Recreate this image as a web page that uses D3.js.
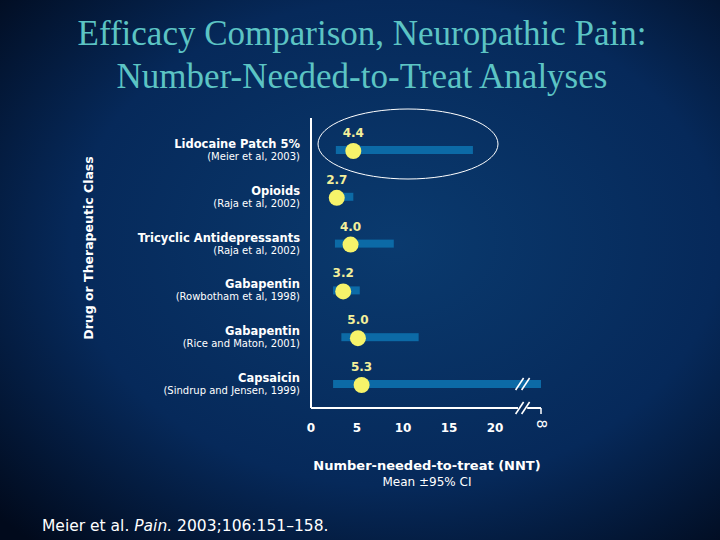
<!DOCTYPE html>
<html><head><meta charset="utf-8">
<script src="https://cdn.jsdelivr.net/npm/d3@7"></script>
<style>body{margin:0;background:#000}</style>
</head><body>
<script>
var drugs = ['Lidocaine Patch 5%','Opioids','Tricyclic Antidepressants','Gabapentin','Gabapentin','Capsaicin'];
var cites = ['(Meier et al, 2003)','(Raja et al, 2002)','(Raja et al, 2002)','(Rowbotham et al, 1998)','(Rice and Maton, 2001)','(Sindrup and Jensen, 1999)'];
var nnt = [4.4, 2.7, 4.0, 3.2, 5.0, 5.3];
var dotPos = [4.6, 2.8, 4.3, 3.5, 5.1, 5.5];
var ciLow = [2.7, 2.3, 2.6, 2.4, 3.3, 2.4];
var ciHigh = [17.6, 4.6, 9.0, 5.3, 11.7, 25];
var ticks = [0, 5, 10, 15, 20];

var svg = d3.select('body').append('svg').attr('width', 720).attr('height', 540);
var defs = svg.append('defs');
var grad = defs.append('radialGradient').attr('id','bg').attr('cx','55%').attr('cy','45%').attr('r','75%');
grad.append('stop').attr('offset','0%').attr('stop-color','#0a3a6e');
grad.append('stop').attr('offset','60%').attr('stop-color','#06295a');
grad.append('stop').attr('offset','100%').attr('stop-color','#010a1c');
svg.append('rect').attr('width',720).attr('height',540).attr('fill','url(#bg)');

var title = svg.append('text').attr('text-anchor','middle').attr('fill','#5cc4c4')
  .attr('font-family','Liberation Serif').attr('font-size',35);
title.append('tspan').attr('x',362).attr('y',45).text('Efficacy Comparison, Neuropathic Pain:');
title.append('tspan').attr('x',362).attr('y',88).text('Number-Needed-to-Treat Analyses');

var x = d3.scaleLinear().domain([0, 25]).range([311, 541]);
var y = d3.scalePoint().domain(d3.range(drugs.length)).range([150, 384]);

var g = svg.append('g');
// axes
g.append('line').attr('x1',311).attr('x2',311).attr('y1',118).attr('y2',408).attr('stroke','#fff').attr('stroke-width',2);
g.append('line').attr('x1',311).attr('x2',x(22.5)).attr('y1',408).attr('y2',408).attr('stroke','#fff').attr('stroke-width',2);
g.append('line').attr('x1',x(23.5)).attr('x2',x(25)).attr('y1',408).attr('y2',408).attr('stroke','#fff').attr('stroke-width',2);
g.append('line').attr('x1',x(25)).attr('x2',x(25)).attr('y1',408).attr('y2',414).attr('stroke','#fff').attr('stroke-width',1.5);
g.selectAll('.xt').data(ticks).enter().append('text').attr('x',function(d){return x(d);}).attr('y',432)
  .attr('text-anchor','middle').attr('fill','#fff').attr('font-family','DejaVu Sans').attr('font-weight','bold').attr('font-size',12)
  .text(function(d){return d;});
g.append('text').attr('x',x(25)).attr('y',428).attr('text-anchor','middle').attr('fill','#fff').attr('font-family','DejaVu Sans').attr('font-size',14)
  .attr('transform','rotate(90,'+x(25)+',424)').text('8');

// bars
g.selectAll('.bar').data(drugs).enter().append('rect')
  .attr('x',function(d,i){return x(ciLow[i]);}).attr('width',function(d,i){return x(ciHigh[i])-x(ciLow[i]);})
  .attr('y',function(d,i){return y(i)-4;}).attr('height',8).attr('fill','#0c6aa6');
// break marks
function brk(cx, cy){
  [-3,3].forEach(function(o){
    g.append('line').attr('x1',cx+o-4).attr('y1',cy+6).attr('x2',cx+o+4).attr('y2',cy-6).attr('stroke','#fff').attr('stroke-width',1.6);
  });
}
brk(x(23), y(5)); brk(x(23), 408);

g.selectAll('.dot').data(drugs).enter().append('circle')
  .attr('cx',function(d,i){return x(dotPos[i]);}).attr('cy',function(d,i){return y(i)+1;}).attr('r',8).attr('fill','#f6f36a');
g.selectAll('.val').data(nnt).enter().append('text')
  .attr('x',function(d,i){return x(dotPos[i]);}).attr('y',function(d,i){return y(i)-13;})
  .attr('text-anchor','middle').attr('fill','#f3ef9a').attr('font-family','DejaVu Sans').attr('font-weight','bold').attr('font-size',12)
  .text(function(d){return d.toFixed(1);});

// ellipse
g.append('ellipse').attr('cx',408).attr('cy',144).attr('rx',90).attr('ry',35).attr('fill','none').attr('stroke','#fff').attr('stroke-width',1);

// labels
g.selectAll('.name').data(drugs).enter().append('text').attr('x',300).attr('y',function(d,i){return y(i)-2;})
  .attr('text-anchor','end').attr('fill','#fff').attr('font-family','DejaVu Sans').attr('font-weight','bold').attr('font-size',11.5)
  .text(function(d){return d;});
g.selectAll('.cite').data(cites).enter().append('text').attr('x',300).attr('y',function(d,i){return y(i)+10;})
  .attr('text-anchor','end').attr('fill','#fff').attr('font-family','DejaVu Sans').attr('font-size',10)
  .text(function(d){return d;});

svg.append('text').attr('transform','translate(93,248) rotate(-90)').attr('text-anchor','middle').attr('fill','#fff')
  .attr('font-family','DejaVu Sans').attr('font-weight','bold').attr('font-size',12.5).text('Drug or Therapeutic Class');
svg.append('text').attr('x',427).attr('y',470).attr('text-anchor','middle').attr('fill','#fff')
  .attr('font-family','DejaVu Sans').attr('font-weight','bold').attr('font-size',13).text('Number-needed-to-treat (NNT)');
svg.append('text').attr('x',427).attr('y',486).attr('text-anchor','middle').attr('fill','#fff')
  .attr('font-family','DejaVu Sans').attr('font-size',12).text('Mean \u00b195% CI');
var ref = svg.append('text').attr('x',42).attr('y',531).attr('fill','#fff').attr('font-family','DejaVu Sans').attr('font-size',15.5);
ref.append('tspan').text('Meier et al. ');
ref.append('tspan').attr('font-style','italic').text('Pain.');
ref.append('tspan').text(' 2003;106:151\u2013158.');
</script>
</body></html>
